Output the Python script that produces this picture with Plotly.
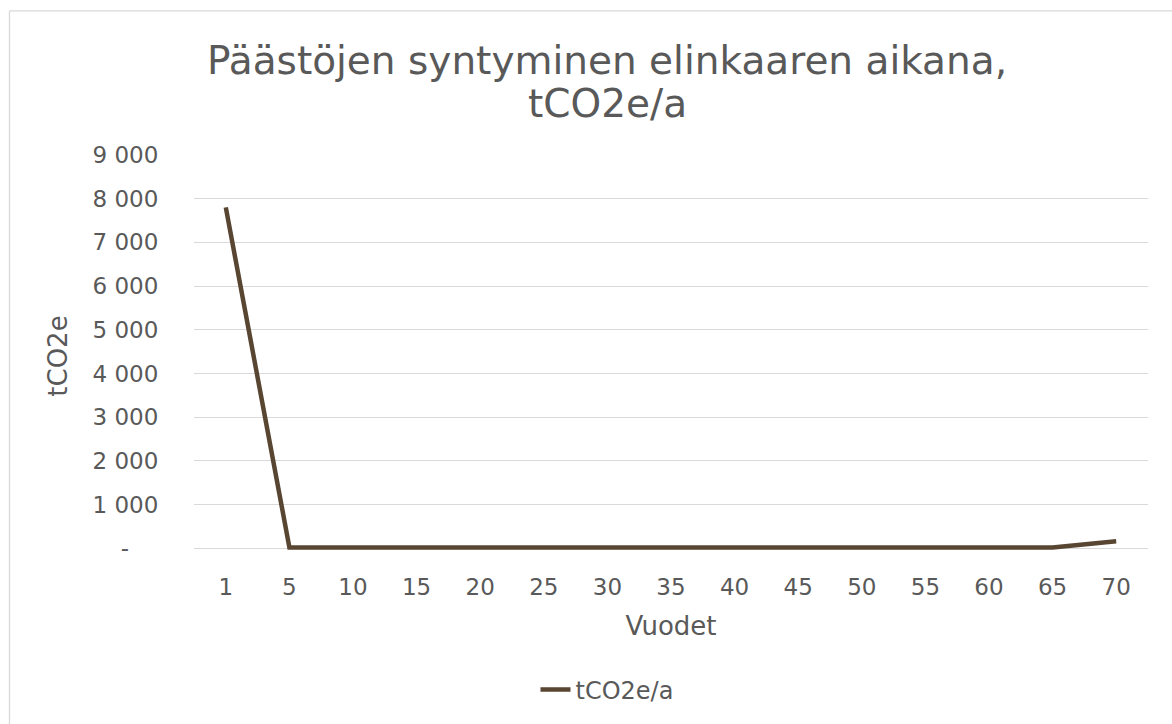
import plotly.graph_objects as go

# Emission data over the building life cycle
years = ["1", "5", "10", "15", "20", "25", "30", "35", "40", "45", "50", "55", "60", "65", "70"]
emissions = [7800, 20, 20, 20, 20, 20, 20, 20, 20, 20, 20, 20, 20, 20, 160]

y_tick_values = [0, 1000, 2000, 3000, 4000, 5000, 6000, 7000, 8000, 9000]
y_tick_labels = ["-\u00a0\u00a0\u00a0\u00a0", "1 000", "2 000", "3 000", "4 000",
                 "5 000", "6 000", "7 000", "8 000", "9 000"]

title_line1 = "Päästöjen syntyminen elinkaaren aikana,"
title_line2 = "tCO2e/a"

W, H = 1172, 724
L, R, T = 194, 24, 155
Y_LO, Y_HI = -200, 9000
zero_px = 552
px_per_unit = (zero_px - T) / Y_HI
B = H - (zero_px + (0 - Y_LO) * px_per_unit)

FONT = "DejaVu Sans"
TXT = "#595959"
LINE = "#584532"
GRID = "#d9d9d9"

fig = go.Figure()
fig.add_trace(go.Scatter(
    x=years, y=emissions, mode="lines", name="tCO2e/a",
    line=dict(color=LINE, width=4.5),
))

pw = W - L - R
ph = H - T - B


def px_x(x):
    return (x - L) / pw


def px_y(y):
    return (H - B - y) / ph


# Chart-area border (left and top edges visible)
fig.add_shape(type="line", xref="paper", yref="paper",
              x0=px_x(9.5), x1=px_x(1300), y0=px_y(9.5), y1=px_y(9.5),
              line=dict(color=GRID, width=1.3))
fig.add_shape(type="line", xref="paper", yref="paper",
              x0=px_x(9.5), x1=px_x(9.5), y0=px_y(9.5), y1=px_y(800),
              line=dict(color=GRID, width=1.3))

# Two-line chart title
fig.add_annotation(text=title_line1, xref="paper", yref="paper",
                   x=px_x(607), y=px_y(60), xanchor="center", yanchor="middle",
                   showarrow=False, font=dict(family=FONT, size=39, color=TXT))
fig.add_annotation(text=title_line2, xref="paper", yref="paper",
                   x=px_x(607), y=px_y(103), xanchor="center", yanchor="middle",
                   showarrow=False, font=dict(family=FONT, size=39, color=TXT))

fig.update_layout(
    width=W, height=H,
    margin=dict(l=L, r=R, t=T, b=B),
    paper_bgcolor="white", plot_bgcolor="white",
    font=dict(family=FONT, color=TXT, size=23),
    showlegend=True,
    legend=dict(orientation="h", x=px_x(607), xanchor="center",
                y=px_y(695), yanchor="middle",
                font=dict(family=FONT, size=24, color=TXT),
                bgcolor="rgba(0,0,0,0)"),
)

fig.update_xaxes(
    type="category", range=[-0.5, len(years) - 0.5],
    showgrid=False, showline=False, zeroline=False,
    ticks="outside", ticklen=9, tickcolor="rgba(0,0,0,0)",
    tickfont=dict(family=FONT, size=23, color=TXT),
    title=dict(text="Vuodet", font=dict(family=FONT, size=26, color=TXT), standoff=18),
)
fig.update_yaxes(
    range=[Y_LO, Y_HI], tickvals=y_tick_values, ticktext=y_tick_labels,
    showgrid=True, gridcolor=GRID, gridwidth=1.3,
    zeroline=False, showline=False,
    ticks="outside", ticklen=30, tickcolor="rgba(0,0,0,0)",
    tickfont=dict(family=FONT, size=23, color=TXT),
    title=dict(text="tCO2e", font=dict(family=FONT, size=26, color=TXT), standoff=17),
)

fig.write_html("out.html")
